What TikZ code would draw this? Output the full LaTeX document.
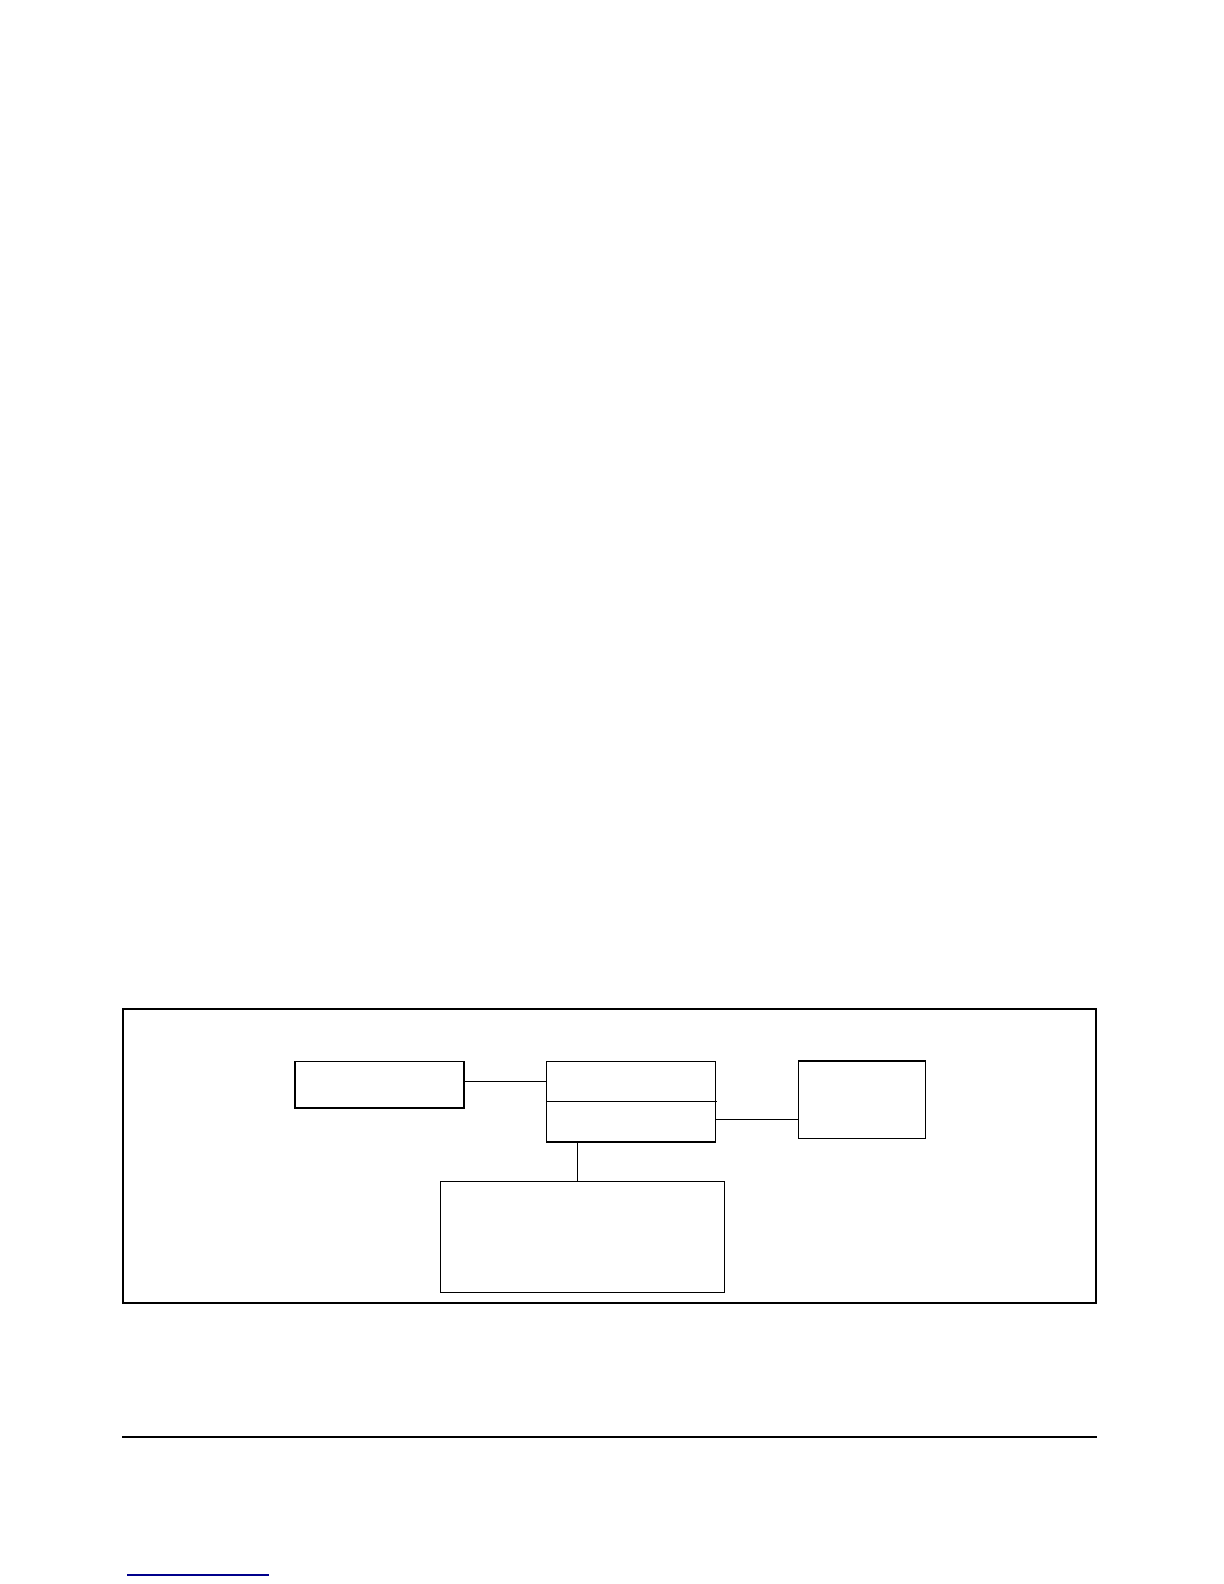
\documentclass[tikz,border=0pt]{standalone}
\usepackage{tikz}
\usetikzlibrary{positioning}

\begin{document}
\begin{tikzpicture}[
        x=0.5bp, y=-0.5bp,
        box/.style = {draw, rectangle, line width=0.6pt, inner sep=0, outer sep=0},
        frame/.style = {draw, line width=1.1pt},
        ]
        \useasboundingbox (0,0) rectangle (1224,1584);
        \draw[frame] (123,1009) rectangle (1096,1303);
        \node[box, minimum width=84.5bp, minimum height=23.25bp](a) at (379.5,1084.75) {};
        \node[box, minimum width=84.5bp, minimum height=40.15bp](b) at (630.8,1101.85) {};
        \node[box, minimum width=63.5bp, minimum height=38.75bp](c) at (861.8,1099.75) {};
        \node[box, minimum width=141.8bp, minimum height=55.5bp](d) at (582.5,1236.8) {};
        \draw[line width=0.6pt] ([yshift=0.3bp]b.west) -- ([xshift=0.7bp,yshift=0.3bp]b.east);
        \draw[line width=1.2pt] (c.north west) -- (c.north east);
        % connectors
        \draw[line width=0.6pt] ([yshift=1.75bp]a.east) -- ([yshift=1.75bp]a.east -| b.west);
        \draw[line width=0.6pt] ([yshift=-8.8bp]b.east) -- ([yshift=-8.8bp]b.east -| c.west);
        \draw[line width=0.6pt] ([xshift=-26.75bp]b.south) -- ([xshift=-26.75bp]b.south |- d.north);
        % rules
        \draw[line width=0.6pt] (122,1437) -- (1097,1437);
        \draw[line width=0.6pt, blue!55!black] (127,1575) -- (269,1575);
\end{tikzpicture}
\end{document}
